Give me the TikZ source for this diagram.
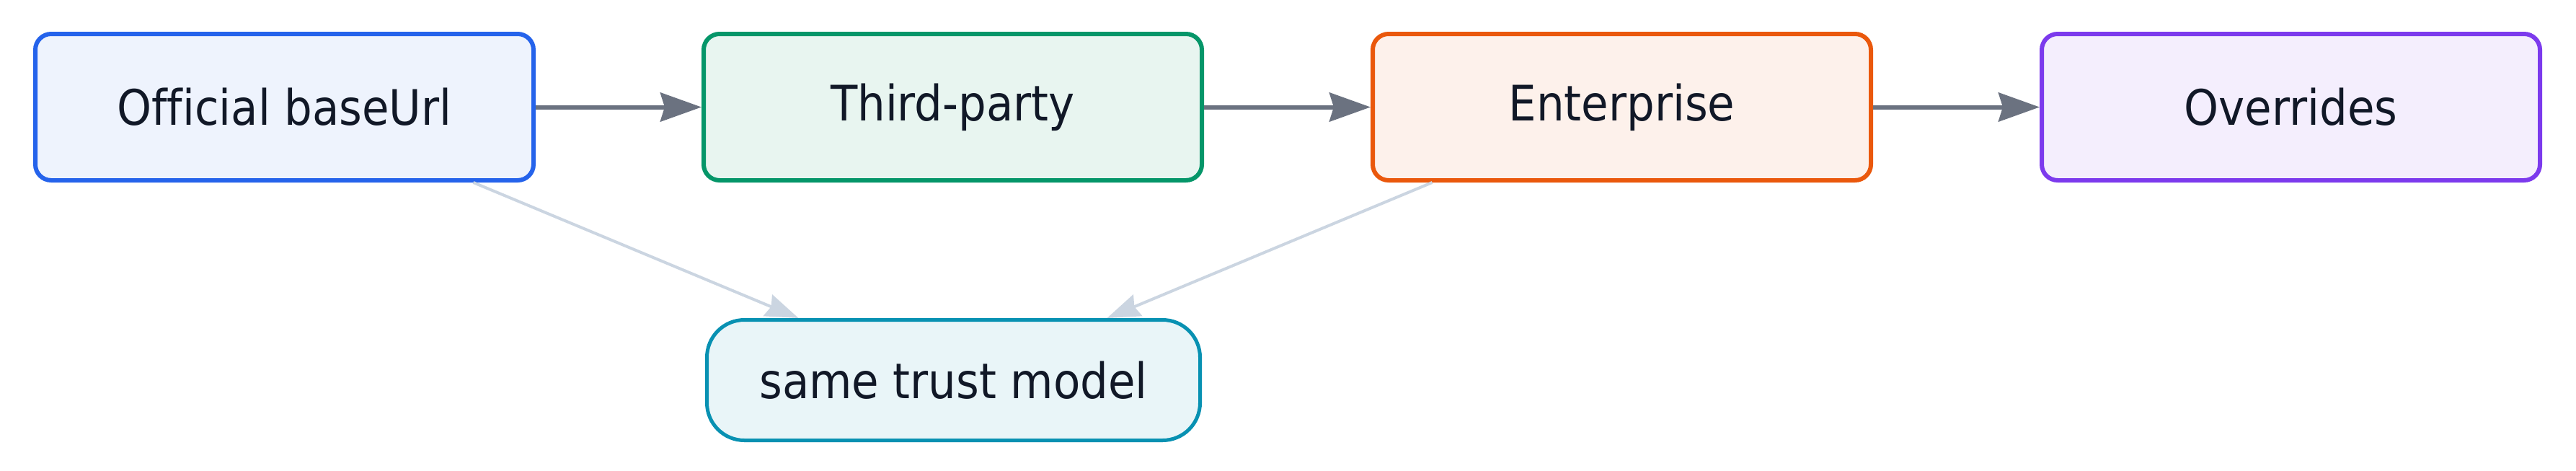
\documentclass[tikz,border=0pt]{standalone}
\usepackage{fontspec}
\setmainfont[Ligatures=CommonOff]{DejaVu Sans Condensed}
\usetikzlibrary{arrows.meta,calc}
\definecolor{ink}{HTML}{111827}
\definecolor{flowgray}{HTML}{6B7280}
\definecolor{linkgray}{HTML}{CBD5E1}
\definecolor{blueline}{HTML}{2563EB}\definecolor{bluefill}{HTML}{EEF3FD}
\definecolor{greenline}{HTML}{059669}\definecolor{greenfill}{HTML}{E8F5F0}
\definecolor{orangeline}{HTML}{EA580C}\definecolor{orangefill}{HTML}{FDF1EB}
\definecolor{purpleline}{HTML}{7C3AED}\definecolor{purplefill}{HTML}{F4EEFD}
\definecolor{cyanline}{HTML}{0891B2}\definecolor{cyanfill}{HTML}{E9F5F8}
\begin{document}
\begin{tikzpicture}[
	stage/.style={draw=#1line,fill=#1fill,line width=0.06cm,rounded corners=0.22cm,
		minimum width=6.91cm,minimum height=2.03cm,text=ink,font=\fontsize{19.3}{24}\selectfont},
	trustbox/.style={draw=cyanline,fill=cyanfill,line width=0.05cm,rounded corners=0.52cm,
		minimum width=6.84cm,minimum height=1.67cm,text=ink,font=\fontsize{19.3}{24}\selectfont},
	flow/.style={draw=flowgray,line width=0.06cm,-{Stealth[length=0.57cm,width=0.4cm,inset=0.06cm]}},
	link/.style={draw=linkgray,line width=0.04cm,-{Stealth[length=0.46cm,width=0.32cm,inset=0.05cm]}}]
	\useasboundingbox (0,0) rectangle (35.73,-6.52);
	\node[stage=blue] (official) at (3.945,-1.485) {Official baseUrl};
	\node[stage=green] (thirdparty) at (13.215,-1.485) {Third-party};
	\node[stage=orange] (enterprise) at (22.495,-1.485) {Enterprise};
	\node[stage=purple] (overrides) at (31.775,-1.485) {Overrides};
	\node[trustbox] (trust) at (13.225,-5.27) {same trust model};
	\draw[flow] (official) -- (thirdparty);
	\draw[flow] (thirdparty) -- (enterprise);
	\draw[flow] (enterprise) -- (overrides);
	\draw[link] ($(official.south)+(2.62,0)$) -- ($(trust.north)+(-2.15,0)$);
	\draw[link] ($(enterprise.south)+(-2.63,0)$) -- ($(trust.north)+(2.13,0)$);
\end{tikzpicture}
\end{document}
